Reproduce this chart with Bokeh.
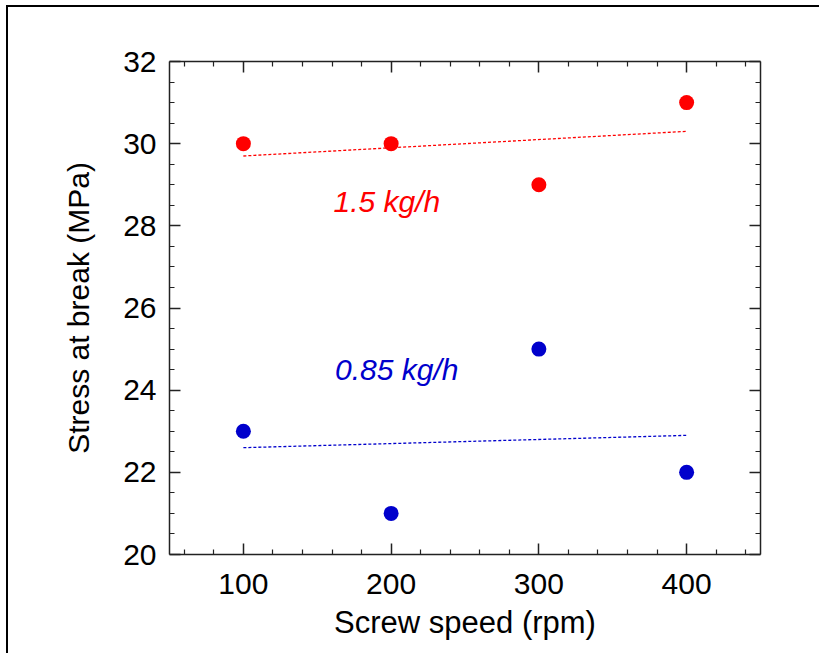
from bokeh.plotting import figure
from bokeh.models import Range1d, FixedTicker, LinearAxis, Label, InlineStyleSheet
from bokeh.embed import file_html
from bokeh.resources import INLINE

# ---- data ----
screw_speed = [100, 200, 300, 400]
stress_high = [30, 30, 29, 31]      # 1.5 kg/h
stress_low = [23, 21, 25, 22]       # 0.85 kg/h
fit_x = [100, 400]
fit_high = [29.7, 30.3]
fit_low = [22.6, 22.9]
x_ticks = [100, 200, 300, 400]
x_minor = [60, 80, 120, 140, 160, 180, 220, 240, 260, 280, 320, 340, 360, 380, 420, 440]
y_ticks = [20, 22, 24, 26, 28, 30, 32]
y_minor = [20.5, 21, 21.5, 22.5, 23, 23.5, 24.5, 25, 25.5, 26.5, 27, 27.5,
           28.5, 29, 29.5, 30.5, 31, 31.5]
label_high = "1.5 kg/h"
label_low = "0.85 kg/h"

RED = "#ff0000"
BLUE = "#0000cc"
FONT = "Liberation Sans"

p = figure(width=819, height=653, output_backend="svg", toolbar_location=None,
           x_range=Range1d(50, 450), y_range=Range1d(20, 32),
           min_border_left=169, min_border_right=59, min_border_top=61, min_border_bottom=99,
           background_fill_color="white", border_fill_color=None)
p.outline_line_color = None
p.grid.visible = False
# outer frame line (top and left edges) behind the transparent border area
p.stylesheets = [InlineStyleSheet(css=":host { box-shadow: inset 6px 5px 0 0 white, "
                                      "inset 8px 7px 0 0 black; background-color: white; }")]

def style_axis(ax, show_labels=True):
    ax.axis_line_color = "#222222"
    ax.axis_line_width = 1.5
    ax.major_tick_line_color = "#222222"
    ax.major_tick_line_width = 1.5
    ax.minor_tick_line_color = "#222222"
    ax.minor_tick_line_width = 1.2
    ax.major_tick_in = 11
    ax.major_tick_out = 0
    ax.minor_tick_in = 5
    ax.minor_tick_out = 0
    ax.major_label_text_font = FONT
    ax.major_label_text_font_size = "30px"
    ax.major_label_text_color = "black"
    ax.axis_label_text_font = FONT
    ax.axis_label_text_font_size = "31px"
    ax.axis_label_text_font_style = "normal"
    ax.axis_label_text_color = "black"
    if not show_labels:
        ax.major_label_text_font_size = "0px"
        ax.major_label_text_alpha = 0

xt = FixedTicker(ticks=x_ticks, minor_ticks=x_minor)
yt = FixedTicker(ticks=y_ticks, minor_ticks=y_minor)

p.xaxis.ticker = xt
p.yaxis.ticker = yt
style_axis(p.xaxis[0])
style_axis(p.yaxis[0])
p.xaxis.axis_label = "Screw speed (rpm)"
p.yaxis.axis_label = "Stress at break (MPa)"
p.yaxis.axis_label_text_font_size = "30px"
p.xaxis.major_label_standoff = 19
p.yaxis.major_label_standoff = 13
p.xaxis.axis_label_standoff = 8
p.yaxis.axis_label_standoff = 25

top_ax = LinearAxis(ticker=FixedTicker(ticks=x_ticks, minor_ticks=x_minor))
right_ax = LinearAxis(ticker=FixedTicker(ticks=y_ticks, minor_ticks=y_minor))
style_axis(top_ax, False)
style_axis(right_ax, False)
p.add_layout(top_ax, "above")
p.add_layout(right_ax, "right")

p.line(fit_x, fit_high, line_color=RED, line_width=1.3, line_dash="3 2")
p.line(fit_x, fit_low, line_color=BLUE, line_width=1.3, line_dash="3 2")
p.scatter(screw_speed, stress_high, size=15, fill_color=RED, line_color=None)
p.scatter(screw_speed, stress_low, size=15, fill_color=BLUE, line_color=None)

p.add_layout(Label(x=161, y=28.2, text=label_high, text_color=RED,
                   text_font=FONT, text_font_size="30px", text_font_style="italic"))
p.add_layout(Label(x=162, y=24.1, text=label_low, text_color=BLUE,
                   text_font=FONT, text_font_size="30px", text_font_style="italic"))

open("out.html", "w").write(file_html(p, INLINE))
